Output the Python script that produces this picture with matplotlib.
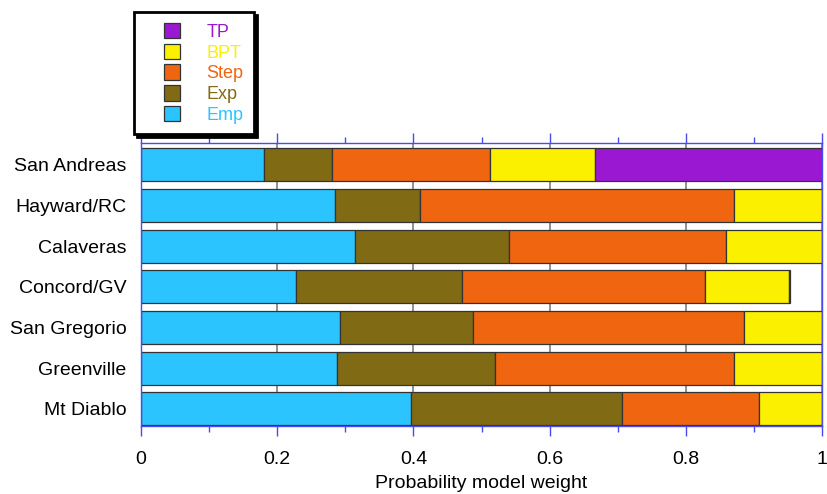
import matplotlib.pyplot as plt
import matplotlib.patches as mpatches
from matplotlib.legend_handler import HandlerPatch
import numpy as np

faults = ['San Andreas', 'Hayward/RC', 'Calaveras', 'Concord/GV',
          'San Gregorio', 'Greenville', 'Mt Diablo']
models = ['Emp', 'Exp', 'Step', 'BPT', 'TP']
colors = ['#2bc4ff', '#806b14', '#f06510', '#faf000', '#9b18d3']

emp = [0.181, 0.285, 0.314, 0.227, 0.292, 0.288, 0.397]
exp_ = [0.100, 0.124, 0.227, 0.245, 0.195, 0.232, 0.309]
step = [0.232, 0.462, 0.318, 0.356, 0.398, 0.351, 0.202]
bpt = [0.154, 0.129, 0.141, 0.123, 0.115, 0.129, 0.092]
tp = [0.333, 0.0, 0.0, 0.002, 0.0, 0.0, 0.0]
weights = [emp, exp_, step, bpt, tp]

plt.rcParams['font.family'] = ['Liberation Sans', 'DejaVu Sans']

fig = plt.figure(figsize=(8.27, 4.94), dpi=100)
ax = fig.add_axes([141/827, 1-426/494, 681/827, 283/494])

y = np.arange(len(faults))
left = np.zeros(len(faults))
bars = []
for name, vals, c in zip(models, weights, colors):
    b = ax.barh(y, vals, left=left, height=0.81, color=c, edgecolor='#333333',
                linewidth=0.9, label=name, zorder=2)
    bars.append(b)
    left += np.array(vals)

ax.set_xlim(0, 1)
ax.set_ylim(6.42, -0.53)
ax.set_yticks(y)
ax.set_yticklabels(faults, fontsize=14)
ax.tick_params(axis='y', length=0, pad=10.5)

blue = '#4a4aee'
ax.set_xticks(np.arange(0, 1.01, 0.2))
ax.set_xticklabels(['0', '0.2', '0.4', '0.6', '0.8', '1'], fontsize=14)
ax.set_xticks(np.arange(0.1, 1.0, 0.2), minor=True)
ax.tick_params(axis='x', which='major', direction='out', length=7, color=blue,
               top=True, pad=11, width=1)
ax.tick_params(axis='x', which='minor', direction='out', length=4, color=blue,
               top=True, width=1)
for s in ax.spines.values():
    s.set_color(blue)
    s.set_linewidth(1)
ax.xaxis.grid(True, color='#888888', linewidth=1.3, zorder=0)
ax.set_axisbelow(True)
ax.set_xlabel('Probability model weight', fontsize=14, labelpad=5)


# small square sitting at the right side of a wide handle box
def square(legend, orig_handle, xdescent, ydescent, width, height, fontsize):
    return mpatches.Rectangle((-xdescent + width - height, -ydescent), height, height)


handles = [b.patches[0] for b in bars[::-1]]
leg = fig.legend(handles, models[::-1], loc='upper left',
                 bbox_to_anchor=(134/827, 1-12/494), fontsize=13,
                 frameon=True, fancybox=False, edgecolor='black',
                 handlelength=1.95, handleheight=0.95, handletextpad=1.45,
                 labelspacing=0.15, borderpad=0.6, borderaxespad=0,
                 handler_map={mpatches.Rectangle: HandlerPatch(patch_func=square)},
                 shadow={'color': 'black', 'alpha': 1}, framealpha=1)
leg.get_frame().set_linewidth(2)
for t, c in zip(leg.get_texts(), colors[::-1]):
    t.set_color(c)

fig.savefig('out.png', dpi=100)
